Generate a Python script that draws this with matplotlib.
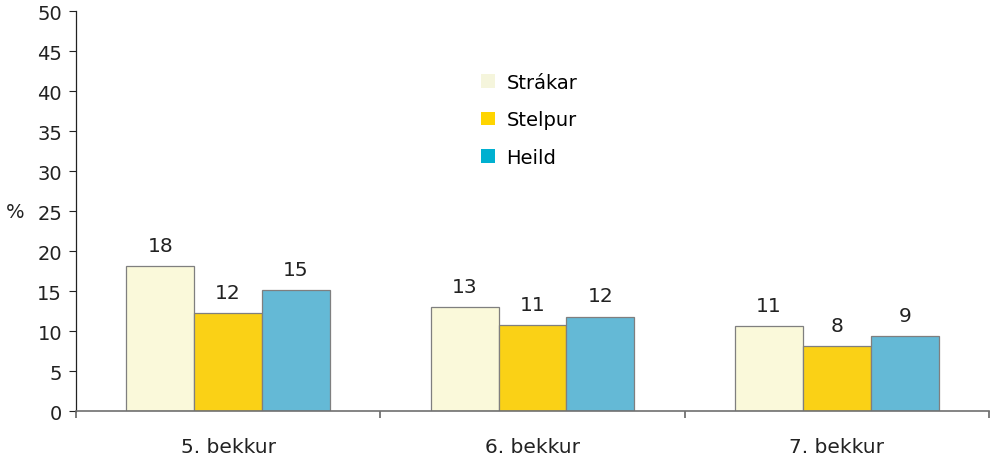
import matplotlib.pyplot as plt
from matplotlib.patches import Patch
import numpy as np

# Share of pupils per grade, by group (%)
grades = ['5. bekkur', '6. bekkur', '7. bekkur']
series_names = ['Strákar', 'Stelpur', 'Heild']
strakar = [18.1, 13.0, 10.6]
stelpur = [12.2, 10.7, 8.1]
heild = [15.1, 11.8, 9.4]

bar_colors = ['#FAF9DA', '#FAD116', '#64B9D6']
legend_colors = ['#F5F5DC', '#FFD500', '#00B0D0']

plt.rcParams['font.family'] = ['DejaVu Sans']
W, H = 990, 464

fig = plt.figure(figsize=(W / 100, H / 100), dpi=100)
ax = fig.add_axes([76 / W, 1 - 412 / H, (989 - 76) / W, 400 / H])

x = np.arange(len(grades))
width = 0.223
for i, (vals, color) in enumerate(zip([strakar, stelpur, heild], bar_colors)):
    pos = x + (i - 1) * width
    bars = ax.bar(pos, vals, width=width, color=color, edgecolor='#7f7f7f',
                  linewidth=0.9, zorder=2)
    for b, v in zip(bars, vals):
        ax.annotate(f'{v:.0f}', (b.get_x() + b.get_width() / 2, v),
                    xytext=(0, 8), textcoords='offset points',
                    ha='center', va='bottom', fontsize=14.5, color='#222222')

ax.set_xlim(-0.5, 2.5)
ax.set_ylim(0, 50)
ax.set_yticks(range(0, 51, 5))
ax.tick_params(axis='y', direction='out', length=5, width=0.8,
               labelsize=14, colors='#222222', pad=5)

ax.set_xticks(x)
ax.set_xticklabels(grades, fontsize=14.5, color='#222222')
ax.tick_params(axis='x', which='major', length=0, pad=19)
ax.set_xticks([-0.5, 0.5, 1.5, 2.5], minor=True)
ax.tick_params(axis='x', which='minor', direction='out', length=5,
               width=1.2, color='#666666')

for side in ['top', 'right']:
    ax.spines[side].set_visible(False)
ax.spines['left'].set_color('#222222')
ax.spines['left'].set_linewidth(0.9)
ax.spines['bottom'].set_color('#707070')
ax.spines['bottom'].set_linewidth(1.2)

fig.text(6 / W, 1 - 213 / H, '%', fontsize=14, color='#222222',
         ha='left', va='center')

handles = [Patch(facecolor=c, edgecolor='none') for c in legend_colors]
fig.legend(handles, series_names, loc='upper left',
           bbox_to_anchor=(481 / W, 1 - 74 / H), frameon=False, fontsize=14,
           borderpad=0, borderaxespad=0,
           handlelength=0.7, handleheight=0.7, handletextpad=0.6,
           labelspacing=0.95)

fig.savefig('out.png', dpi=100)
